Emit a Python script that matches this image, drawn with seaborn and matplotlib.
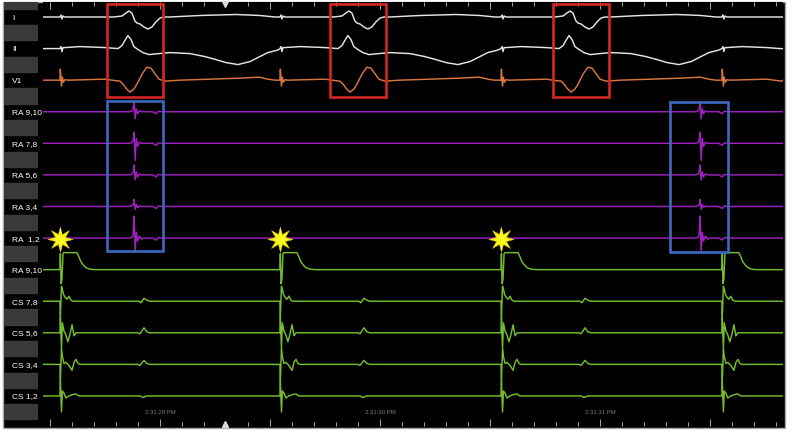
import numpy as np
import pandas as pd
import matplotlib
matplotlib.use("Agg")
import matplotlib.pyplot as plt
import seaborn as sns
from matplotlib.patches import Rectangle
from matplotlib import font_manager

# ---------- Channels (top to bottom) ----------
channels = ["I", "II", "V1", "RA 9,10", "RA 7,8", "RA 5,6", "RA 3,4", "RA  1,2",
            "RA 9,10", "CS 7,8", "CS 5,6", "CS 3,4", "CS 1,2"]
channel_colors = ["#e4e4e4", "#e4e4e4", "#d8763f",
                  "#a020c0", "#a020c0", "#a020c0", "#a020c0", "#a020c0",
                  "#76bd2c", "#76bd2c", "#76bd2c", "#76bd2c", "#76bd2c"]

# ---------- Event times (ms, relative to 2:31:29.000 PM) ----------
stim_times = [-455, 545, 1550, 2554]        # pacing stimuli
ra_times = [-118, 2455]                     # RA activations
star_times = [-455, 545, 1550]              # marked stimuli
t_window = [-532, 2832]

time_ticks = [0, 1000, 2000]
time_labels = ["2:31:29 PM", "2:31:30 PM", "2:31:31 PM"]
cursor_time = 295

# ---------- Per-cycle templates (ms after stimulus, deflection) ----------
lead_I_t = [0, 5, 9, 14, 23, 245, 282, 300, 314, 327, 341, 350, 364, 382, 400, 418, 436, 455, 473,
            500, 636, 800, 909, 977, 995]
lead_I_a = [0, 2, -2, 1, 0, 0, 1, 4, 6, 4, -4, -6, -7, -10, -12, -10, -5, -1, 0,
            0, 1.5, 2.5, 1.5, 0, 0]

lead_II_t = [0, 5, 9, 14, 23, 91, 205, 264, 282, 295, 309, 323, 336, 355, 377, 405, 450,
             500, 591, 659, 709, 755, 809, 864, 909, 945, 982, 995]
lead_II_a = [0, 2, -3, 1, 1, 2, 1, 0, 3, 8, 13, 9, 2, -1, -4, -6, -5,
             -4, -5, -8, -11, -14, -16, -13, -8, -4, -2, -1]

v1_t = [0, 2, 7, 11, 16, 23, 36, 205, 236, 273, 291, 300, 318, 336, 350, 373, 395, 414, 427, 450, 477,
        545, 682, 818, 905, 945, 977, 995]
v1_a = [0, 11, -6, 3, -2, 0.5, 0, 1, 0, -1, -5, -8, -12, -9, -4, 6, 13, 12, 8, 1, -1,
        0, 1, 2, 3, 1, 0, 0]

pace_t = [0, 2, 5, 9, 14, 18, 77, 86, 95, 105, 118, 136, 159]
pace_a = [0, 16, -14, -10, 16, 17, 17, 13, 8, 5, 2, 0.5, 0]

cs78_t = [0, 2, 7, 11, 16, 23, 32, 41, 50, 59, 359, 368, 382, 395, 409]
cs78_a = [0, -15, 15, 12, 7, 4, 2, 5, 1, 0, 0, -1.5, 3, 1, 0]

cs56_t = [0, 2, 7, 11, 18, 27, 36, 45, 55, 64, 73, 355, 364, 382, 395, 409]
cs56_a = [0, 16, -16, 10, 2, -2, -9, -2, 8, -3, 0, 0, -1, 5, 1, 0]

cs34_t = [0, 2, 7, 11, 18, 27, 41, 55, 64, 73, 82, 91, 355, 364, 382, 395, 409]
cs34_a = [0, -16, 15, 8, 1, 2, -1, -6, 2, 5, 1, 0, 0, -1, 4, 1, 0]

cs12_t = [0, 2, 7, 11, 18, 27, 41, 59, 73, 86, 364, 377, 395]
cs12_a = [0, 15, -16, 5, 3, -2, 0, 1.5, 2, 0, 0, -1.5, 0]

# ---------- RA activation template (ms around activation) ----------
ra_t = [-20, -8, -4, 0, 5, 10, 16, 24, 34, 48, 85, 100, 110, 125]
ra910_a = [0, 1, 3, 10, -7, 3, -2, 1, 0, 0, 0, -2, 0.5, 0]
ra78_a = [0, 1, 4, 11, -17, 5, -3, 1, 0, 0, 0, -2, 0.5, 0]
ra56_a = [0, 1, 3, 10, -5, 3, -2, 1, 0, 0, 0, -2, 0.5, 0]
ra34_a = [0, 1, 2, 7, -3, 2, -1, 0.5, 0, 0, 0, -2, 0.5, 0]
ra12_a = [0, 1, 4, 22, -13, 6, -3, 2, -1, 0, 0, -2, 0.5, 0]

channel_sources = [
    (stim_times, lead_I_t, lead_I_a),
    (stim_times, lead_II_t, lead_II_a),
    (stim_times, v1_t, v1_a),
    (ra_times, ra_t, ra910_a),
    (ra_times, ra_t, ra78_a),
    (ra_times, ra_t, ra56_a),
    (ra_times, ra_t, ra34_a),
    (ra_times, ra_t, ra12_a),
    (stim_times, pace_t, pace_a),
    (stim_times, cs78_t, cs78_a),
    (stim_times, cs56_t, cs56_a),
    (stim_times, cs34_t, cs34_a),
    (stim_times, cs12_t, cs12_a),
]

# ---------- Layout (pixels of a 788x431 canvas) ----------
W, H = 788, 431
PITCH = 31.58           # px between channel baselines
ROW0 = 18               # px of first baseline
AX_TOP, AX_BOT = 3, 427


def py(px):
    """pixel row -> data y (channel units)"""
    return -(px - ROW0) / PITCH


# ---------- Build long table ----------
frames = []
for i, (events, tt, aa) in enumerate(channel_sources):
    ts = [t_window[0]]
    ys = [0.0]
    for e in events:
        for dt, a in zip(tt, aa):
            t = e + dt
            if t_window[0] < t < t_window[1]:
                ts.append(t)
                ys.append(a)
    ts.append(t_window[1])
    ys.append(0.0)
    frames.append(pd.DataFrame({
        "t": ts,
        "y": -i + np.array(ys) / PITCH,
        "ch": f"ch{i}",
    }))
traces = pd.concat(frames, ignore_index=True)
palette = {f"ch{i}": c for i, c in enumerate(channel_colors)}

# ---------- Figure ----------
sns.set_style("dark")
names = {f.name for f in font_manager.fontManager.ttflist}
label_font = "Liberation Sans Narrow" if "Liberation Sans Narrow" in names else "Liberation Sans"
plt.rcParams["font.family"] = [label_font, "DejaVu Sans"]

fig = plt.figure(figsize=(W / 100, H / 100), dpi=100, facecolor="white")
fig.add_artist(Rectangle((2.5 / W, 1 - 428.5 / H), 782 / W, 426 / H, transform=fig.transFigure,
                         facecolor="black", edgecolor="#a8a8a8", linewidth=1.0, zorder=-1))

ax = fig.add_axes([43 / W, 1 - AX_BOT / H, (783 - 43) / W, (AX_BOT - AX_TOP) / H])
ax.set_facecolor("black")
ylim = (py(AX_BOT), py(AX_TOP))

sns.lineplot(data=traces, x="t", y="y", hue="ch", palette=palette, estimator=None,
             sort=False, legend=False, linewidth=1.05, ax=ax)

# stimulus stars (8-point, slender rays)
ang = np.linspace(0, 2 * np.pi, 17)[:-1] + np.pi / 2
rad = np.where(np.arange(16) % 2 == 0, 1.0, 0.42)
star_shape = list(zip(rad * np.cos(ang), rad * np.sin(ang)))
sns.scatterplot(x=star_times, y=[py(240)] * len(star_times), marker=star_shape, s=330,
                color="#fbf81e", edgecolor="#d9c400", linewidth=0.4, zorder=6, ax=ax)

# annotation boxes: (t0, t1, top px, bottom px, colour)
boxes = [(-241, 14, 5, 98, "#d42626"), (773, 1027, 5, 98, "#d42626"), (1786, 2041, 5, 98, "#d42626"),
         (-241, 14, 101.5, 252, "#3d68c0"), (2320, 2580, 102.5, 253, "#3d68c0")]
for t0, t1, ptop, pbot, col in boxes:
    ax.add_patch(Rectangle((t0, py(pbot)), t1 - t0, py(ptop) - py(pbot), fill=False,
                           edgecolor=col, linewidth=1.9, zorder=5))

ax.set_xlim(*t_window)
ax.set_ylim(*ylim)
ax.set_xticks(np.arange(-500, t_window[1], 500))
ax.set_xticks(np.arange(-500, t_window[1], 100), minor=True)
ax.set_yticks([])
ax.tick_params(which="both", direction="in", top=True, bottom=True, labelbottom=False,
               colors="#c4c4c4", width=0.6)
ax.tick_params(which="major", length=5)
ax.tick_params(which="minor", length=3)
ax.set_xlabel("")
ax.set_ylabel("")
for s in ax.spines.values():
    s.set_visible(False)
ax.grid(False)

for t, lab in zip(time_ticks, time_labels):
    ax.text(t, py(413), lab, color="#7c7c7c", fontsize=4.3, ha="center", va="center")

ax.plot([cursor_time], [py(4.5)], marker="v", ms=4, color="#d8d8d8", clip_on=False, zorder=7)
ax.plot([cursor_time], [py(425)], marker="^", ms=4, color="#d8d8d8", clip_on=False, zorder=7)

# ---------- Channel label column ----------
lab_ax = fig.add_axes([4 / W, 1 - AX_BOT / H, 34 / W, (AX_BOT - AX_TOP) / H])
lab_ax.set_xlim(0, 1)
lab_ax.set_ylim(*ylim)
lab_ax.axis("off")
for k in range(-1, len(channels)):
    c = -k - 0.5
    lab_ax.axhspan(c - 0.24, c + 0.24, color="#3a3a3a", zorder=1)
for i, name in enumerate(channels):
    lab_ax.text(0.24, -i, name, color="white", fontsize=6, ha="left", va="center", zorder=2)

fig.savefig("out.png", dpi=100, facecolor="white")
